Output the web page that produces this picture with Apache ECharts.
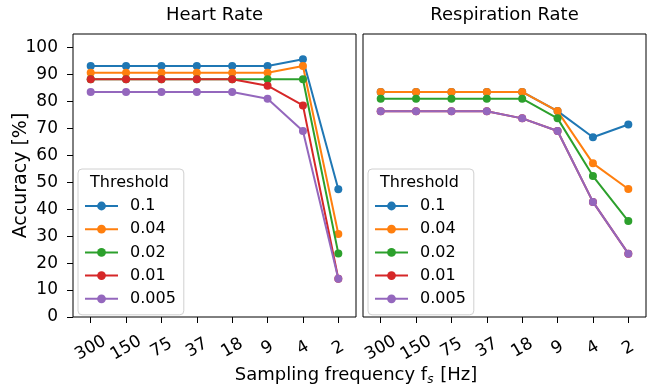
<!DOCTYPE html>
<html>
<head>
<meta charset="utf-8">
<script src="https://cdn.jsdelivr.net/npm/echarts@6/dist/echarts.min.js"></script>
<style>html,body{margin:0;padding:0;background:#fff}#c{width:654px;height:390px}</style>
</head>
<body>
<div id="c"></div>
<script>
const categories = ['300', '150', '75', '37', '18', '9', '4', '2'];
const thresholds = ['0.1', '0.04', '0.02', '0.01', '0.005'];
const yTicks = [0, 10, 20, 30, 40, 50, 60, 70, 80, 90, 100];

const hr_0_1   = [93.1, 93.1, 93.1, 93.1, 93.1, 93.1, 95.6, 47.4];
const hr_0_04  = [90.6, 90.6, 90.6, 90.6, 90.6, 90.6, 93.1, 30.8];
const hr_0_02  = [88.2, 88.2, 88.2, 88.2, 88.2, 88.2, 88.2, 23.6];
const hr_0_01  = [88.2, 88.2, 88.2, 88.2, 88.2, 85.8, 78.5, 14.2];
const hr_0_005 = [83.5, 83.5, 83.5, 83.5, 83.5, 81.0, 69.0, 14.2];

const rr_0_1   = [83.5, 83.5, 83.5, 83.5, 83.5, 76.4, 66.7, 71.4];
const rr_0_04  = [83.5, 83.5, 83.5, 83.5, 83.5, 76.4, 57.0, 47.5];
const rr_0_02  = [81.0, 81.0, 81.0, 81.0, 81.0, 73.7, 52.3, 35.6];
const rr_0_01  = [76.3, 76.3, 76.3, 76.3, 73.7, 69.0, 42.7, 23.5];
const rr_0_005 = [76.3, 76.3, 76.3, 76.3, 73.7, 69.0, 42.7, 23.5];

const colors = ['#1f77b4', '#ff7f0e', '#2ca02c', '#d62728', '#9467bd'];
const hrData = [hr_0_1, hr_0_04, hr_0_02, hr_0_01, hr_0_005];
const rrData = [rr_0_1, rr_0_04, rr_0_02, rr_0_01, rr_0_005];

const FONT = 'DejaVu Sans';
const chart = echarts.init(document.getElementById('c'), null, {renderer: 'canvas'});

function xAxis(gi) {
  return {
    type: 'category', gridIndex: gi, data: categories, boundaryGap: true,
    axisLine: {show: false},
    axisTick: {show: true, alignWithLabel: true, length: 6, lineStyle: {color: '#000', width: 1}},
    axisLabel: {rotate: 30, align: 'center', verticalAlign: 'middle', margin: 31,
      fontFamily: FONT, fontSize: 17, color: '#000', interval: 0},
    splitLine: {show: false}
  };
}
function yAxis(gi, showLabels) {
  return {
    type: 'value', gridIndex: gi, min: 0, max: 105,
    name: showLabels ? 'Accuracy [%]' : '', nameLocation: 'middle', nameGap: 42, nameRotate: 90,
    nameMoveOverlap: false,
    nameTextStyle: {fontFamily: FONT, fontSize: 19, color: '#000'},
    axisLine: {show: false},
    axisTick: {show: showLabels, length: 6, lineStyle: {color: '#000', width: 1}, customValues: yTicks},
    axisLabel: {show: showLabels, margin: 15, fontFamily: FONT, fontSize: 17, color: '#000', customValues: yTicks},
    splitLine: {show: false}
  };
}
const series = [];
[hrData, rrData].forEach((set, gi) => {
  set.forEach((d, i) => {
    series.push({
      type: 'line', name: thresholds[i], xAxisIndex: gi, yAxisIndex: gi, data: d,
      symbol: 'circle', symbolSize: 8, showSymbol: true,
      lineStyle: {color: colors[i], width: 2}, itemStyle: {color: colors[i]},
      animation: false, z: 2 + i
    });
  });
});
function legend(left) {
  return {
    orient: 'vertical', left: left, top: 169, data: thresholds,
    padding: [29, 8, 8, 6], itemWidth: 33, itemHeight: 11, itemGap: 7.2,
    backgroundColor: 'rgba(255,255,255,0.8)', borderColor: '#d0d0d0', borderWidth: 1, borderRadius: 4,
    textStyle: {fontFamily: FONT, fontSize: 16, color: '#000', padding: [0, 0, 0, 7]},
    selectedMode: false
  };
}
chart.setOption({
  animation: false,
  grid: [
    {left: 73, top: 34, width: 283, height: 283, show: true, borderColor: '#000', borderWidth: 1, backgroundColor: '#fff'},
    {left: 363, top: 34, width: 283, height: 283, show: true, borderColor: '#000', borderWidth: 1, backgroundColor: '#fff'}
  ],
  xAxis: [xAxis(0), xAxis(1)],
  yAxis: [yAxis(0, true), yAxis(1, false)],
  legend: [legend(78), legend(368)],
  series: series,
  graphic: [
    {type: 'text', x: 214.5, y: 15, z: 100, style: {text: 'Heart Rate', fontFamily: FONT, fontSize: 18, fill: '#000', align: 'center', verticalAlign: 'middle'}},
    {type: 'text', x: 504.5, y: 15, z: 100, style: {text: 'Respiration Rate', fontFamily: FONT, fontSize: 18, fill: '#000', align: 'center', verticalAlign: 'middle'}},
    {type: 'text', x: 129.5, y: 183, z: 100, style: {text: 'Threshold', fontFamily: FONT, fontSize: 16, fill: '#000', align: 'center', verticalAlign: 'middle'}},
    {type: 'text', x: 419.5, y: 183, z: 100, style: {text: 'Threshold', fontFamily: FONT, fontSize: 16, fill: '#000', align: 'center', verticalAlign: 'middle'}},
    {type: 'text', x: 356, y: 375, z: 100, style: {
      text: 'Sampling frequency f{s|s} [Hz]', fontFamily: FONT, fontSize: 18, fill: '#000', align: 'center', verticalAlign: 'middle',
      rich: {s: {fontFamily: FONT, fontSize: 12, fontStyle: 'italic', fill: '#000', padding: [9, 1, 0, 0]}}
    }}
  ]
});
</script>
</body>
</html>
